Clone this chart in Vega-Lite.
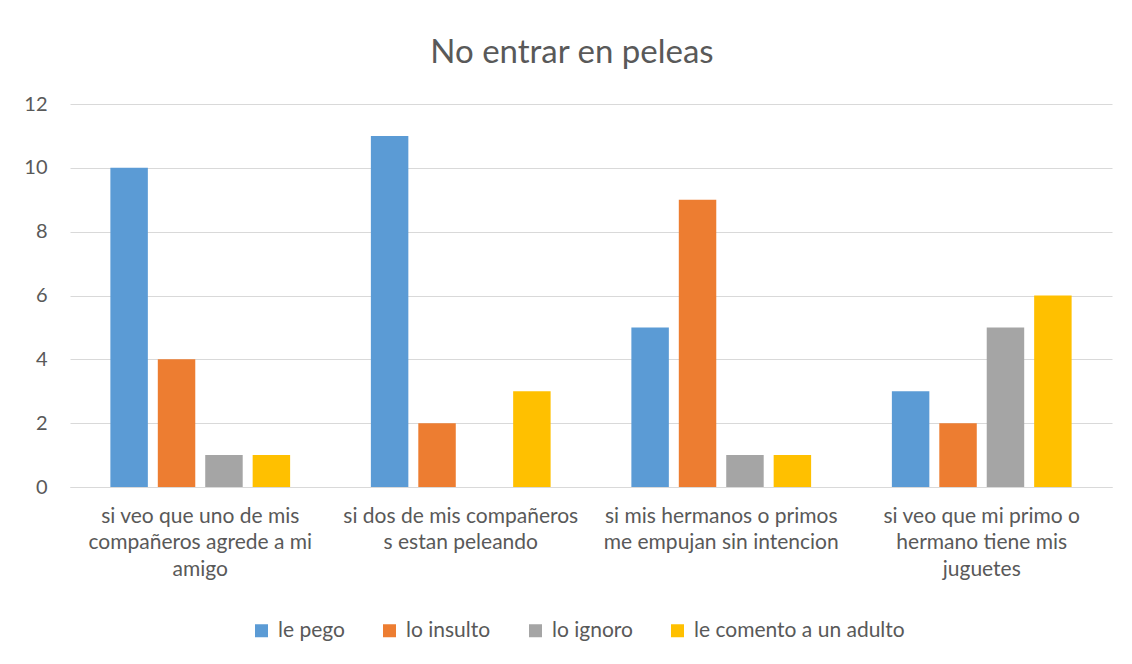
{
  "$schema": "https://vega.github.io/schema/vega-lite/v6.json",
  "autosize": {"type": "none"},
  "padding": {"left": 70, "top": 104, "right": 20, "bottom": 177},
  "width": 1042,
  "height": 383,
  "background": "white",
  "title": {
    "text": "No entrar en peleas",
    "font": "Lato",
    "fontSize": 33,
    "fontWeight": "normal",
    "color": "#595959",
    "anchor": "middle",
    "dx": -19,
    "offset": 24
  },
  "data": {
    "values": [
      {"situacion": "si veo que uno de mis|compañeros agrede a mi|amigo", "respuesta": "le pego", "valor": 10},
      {"situacion": "si veo que uno de mis|compañeros agrede a mi|amigo", "respuesta": "lo insulto", "valor": 4},
      {"situacion": "si veo que uno de mis|compañeros agrede a mi|amigo", "respuesta": "lo ignoro", "valor": 1},
      {"situacion": "si veo que uno de mis|compañeros agrede a mi|amigo", "respuesta": "le comento a un adulto", "valor": 1},
      {"situacion": "si dos de mis compañeros|s estan peleando", "respuesta": "le pego", "valor": 11},
      {"situacion": "si dos de mis compañeros|s estan peleando", "respuesta": "lo insulto", "valor": 2},
      {"situacion": "si dos de mis compañeros|s estan peleando", "respuesta": "lo ignoro", "valor": 0},
      {"situacion": "si dos de mis compañeros|s estan peleando", "respuesta": "le comento a un adulto", "valor": 3},
      {"situacion": "si mis hermanos o primos|me empujan sin intencion", "respuesta": "le pego", "valor": 5},
      {"situacion": "si mis hermanos o primos|me empujan sin intencion", "respuesta": "lo insulto", "valor": 9},
      {"situacion": "si mis hermanos o primos|me empujan sin intencion", "respuesta": "lo ignoro", "valor": 1},
      {"situacion": "si mis hermanos o primos|me empujan sin intencion", "respuesta": "le comento a un adulto", "valor": 1},
      {"situacion": "si veo que mi primo o|hermano tiene mis|juguetes", "respuesta": "le pego", "valor": 3},
      {"situacion": "si veo que mi primo o|hermano tiene mis|juguetes", "respuesta": "lo insulto", "valor": 2},
      {"situacion": "si veo que mi primo o|hermano tiene mis|juguetes", "respuesta": "lo ignoro", "valor": 5},
      {"situacion": "si veo que mi primo o|hermano tiene mis|juguetes", "respuesta": "le comento a un adulto", "valor": 6}
    ]
  },
  "mark": {"type": "bar"},
  "encoding": {
    "x": {
      "field": "situacion",
      "type": "nominal",
      "sort": null,
      "scale": {"paddingInner": 0.31, "paddingOuter": 0.155},
      "axis": {
        "title": null,
        "labelAngle": 0,
        "labelExpr": "split(datum.label, '|')",
        "labelFont": "Lato",
        "labelFontSize": 21,
        "labelLineHeight": 26.5,
        "labelColor": "#595959",
        "labelPadding": 18,
        "labelLimit": 0,
        "ticks": false,
        "domainColor": "#D9D9D9",
        "domainWidth": 1
      }
    },
    "xOffset": {
      "field": "respuesta",
      "type": "nominal",
      "sort": ["le pego", "lo insulto", "lo ignoro", "le comento a un adulto"],
      "scale": {"paddingInner": 0.21, "paddingOuter": 0}
    },
    "y": {
      "field": "valor",
      "type": "quantitative",
      "scale": {"domain": [0, 12]},
      "axis": {
        "title": null,
        "values": [0, 2, 4, 6, 8, 10, 12],
        "domain": false,
        "ticks": false,
        "labelFont": "Lato",
        "labelFontSize": 20,
        "labelColor": "#595959",
        "labelPadding": 23,
        "gridColor": "#D9D9D9",
        "gridWidth": 1
      }
    },
    "color": {
      "field": "respuesta",
      "type": "nominal",
      "sort": ["le pego", "lo insulto", "lo ignoro", "le comento a un adulto"],
      "scale": {
        "domain": ["le pego", "lo insulto", "lo ignoro", "le comento a un adulto"],
        "range": ["#5B9BD5", "#ED7D31", "#A5A5A5", "#FFC000"]
      },
      "legend": {
        "title": null,
        "orient": "none",
        "direction": "horizontal",
        "legendX": 181,
        "legendY": 516,
        "symbolType": "square",
        "symbolSize": 169,
        "symbolStrokeWidth": 0,
        "labelFont": "Lato",
        "labelFontSize": 21,
        "labelColor": "#595959",
        "labelOffset": 6,
        "columnPadding": 34,
        "labelLimit": 0
      }
    }
  },
  "config": {
    "view": {"stroke": null}
  }
}
